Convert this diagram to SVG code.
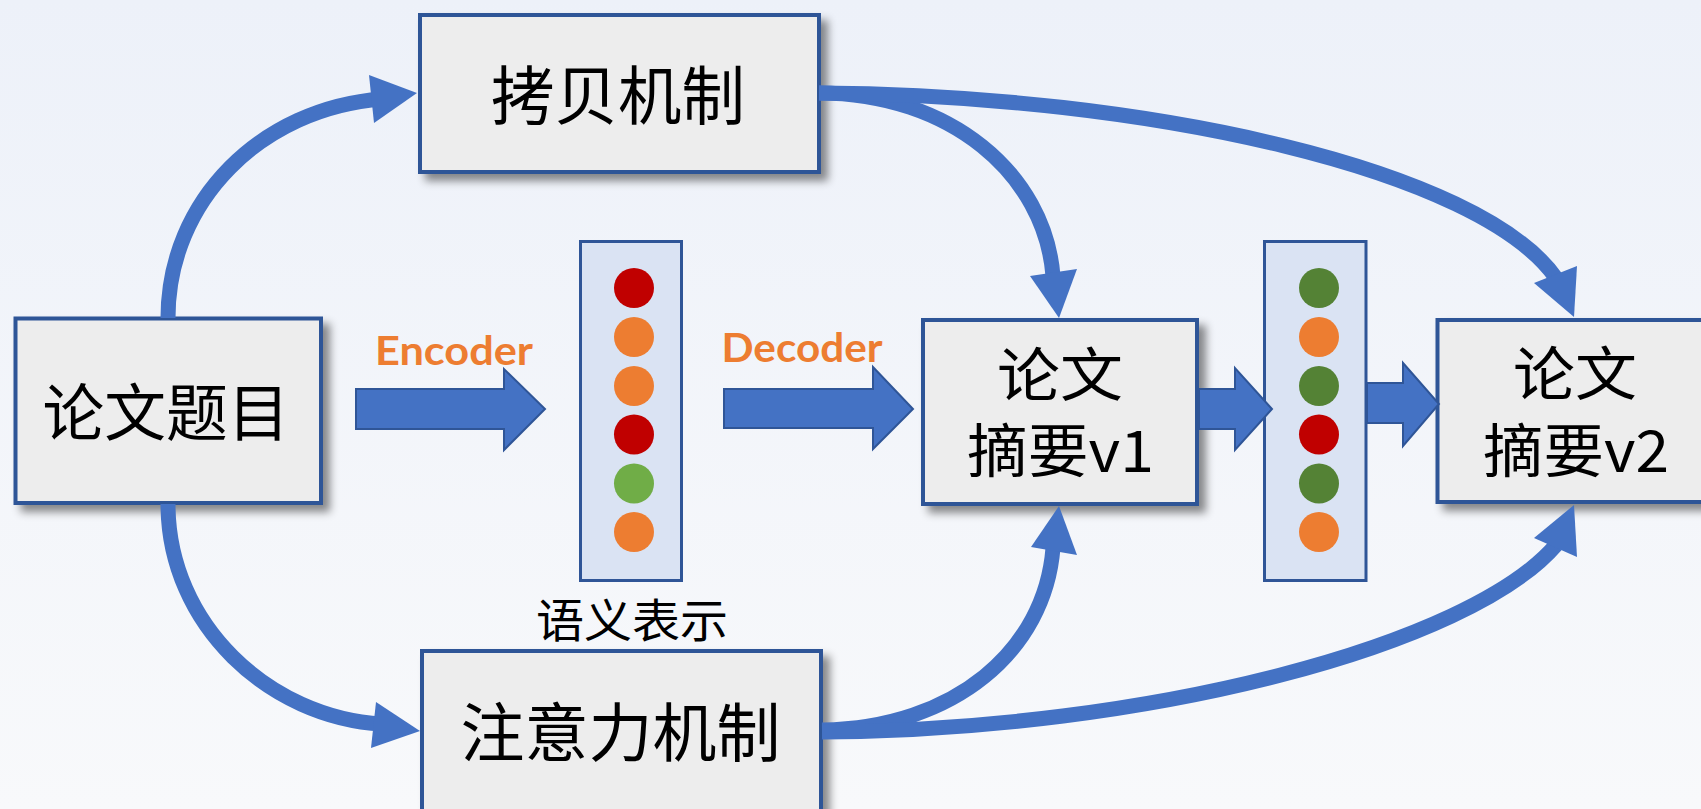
<svg xmlns="http://www.w3.org/2000/svg" width="1701" height="809" viewBox="0 0 1701 809">
<defs>
<linearGradient id="bg" x1="0" y1="0" x2="0" y2="1">
<stop offset="0" stop-color="#EDF1F9"/>
<stop offset="1" stop-color="#F8F9FB"/>
</linearGradient>
<filter id="shadow" x="-10%" y="-10%" width="130%" height="130%">
<feDropShadow dx="7" dy="7" stdDeviation="4" flood-color="#000" flood-opacity="0.45"/>
</filter>
<style>
.node{fill:#EDEDED;stroke:#2F5597;stroke-width:4;filter:url(#shadow)}
.vec{fill:#DAE3F3;stroke:#2F5597;stroke-width:3}
.big{font-family:"Noto Sans CJK SC","Noto Sans",sans-serif;font-size:62px;fill:#000;text-anchor:middle}
.mid{font-family:"Noto Sans CJK SC","Noto Sans",sans-serif;font-size:58px;fill:#000;text-anchor:middle}
.small{font-family:"Noto Sans CJK SC","Noto Sans",sans-serif;font-size:46px;fill:#000;text-anchor:middle}
.lbl{font-family:Lato,"Liberation Sans",sans-serif;font-weight:700;font-size:41px;fill:#ED7D31;text-anchor:middle}
.curve{fill:none;stroke:#4472C4;stroke-width:15}
.head{fill:#4472C4}
.block{fill:#4472C4;stroke:#2F5597;stroke-width:2;stroke-linejoin:miter}
.red{fill:#C00000}.org{fill:#ED7D31}.lgr{fill:#70AD47}.dgr{fill:#548235}
</style>
</defs>
<rect x="0" y="0" width="1701" height="809" fill="url(#bg)"/>

<g id="node-title">
<rect class="node" x="15.5" y="318.5" width="305.5" height="184.5"/>
<text class="big" x="166" y="436" textLength="247" lengthAdjust="spacingAndGlyphs">论文题目</text>
</g>
<g id="node-copy">
<rect class="node" x="420" y="15" width="399" height="157"/>
<text class="big" x="618" y="119" style="font-size:64px" textLength="254" lengthAdjust="spacingAndGlyphs">拷贝机制</text>
</g>
<g id="node-attention">
<rect class="node" x="422" y="651" width="399" height="170"/>
<text class="big" x="620.5" y="756" style="font-size:64px" textLength="320" lengthAdjust="spacingAndGlyphs">注意力机制</text>
</g>
<g id="node-v1">
<rect class="node" x="923" y="320" width="274" height="184"/>
<text class="mid" x="1060" y="396" textLength="126" lengthAdjust="spacingAndGlyphs">论文</text>
<text class="mid" x="1060.5" y="472" textLength="187" lengthAdjust="spacingAndGlyphs">摘要v1</text>
</g>
<g id="node-v2">
<rect class="node" x="1437.5" y="320" width="290" height="182"/>
<text class="mid" x="1575" y="395" textLength="124" lengthAdjust="spacingAndGlyphs">论文</text>
<text class="mid" x="1576" y="472" textLength="186" lengthAdjust="spacingAndGlyphs">摘要v2</text>
</g>
<g id="node-vector1">
<rect class="vec" x="580.5" y="241.5" width="101" height="339"/>
<circle class="red" cx="634" cy="288" r="20"/>
<circle class="org" cx="634" cy="337" r="20"/>
<circle class="org" cx="634" cy="386" r="20"/>
<circle class="red" cx="634" cy="434.5" r="20"/>
<circle class="lgr" cx="634" cy="483.5" r="20"/>
<circle class="org" cx="634" cy="532" r="20"/>
<text class="small" x="632" y="636.5" textLength="192" lengthAdjust="spacingAndGlyphs">语义表示</text>
</g>
<g id="node-vector2">
<rect class="vec" x="1264.5" y="241.5" width="101.5" height="339"/>
<circle class="dgr" cx="1319" cy="288" r="20"/>
<circle class="org" cx="1319" cy="337" r="20"/>
<circle class="dgr" cx="1319" cy="386" r="20"/>
<circle class="red" cx="1319" cy="434.5" r="20"/>
<circle class="dgr" cx="1319" cy="483.5" r="20"/>
<circle class="org" cx="1319" cy="532" r="20"/>
</g>

<g id="connectors">
<path class="curve" d="M168,318 C168,200 262,108 382,99"/>
<polygon class="head" points="417,93 369,75 374,123"/>
<path class="curve" d="M168,504 C168,625 270,718 382,724"/>
<polygon class="head" points="420,731 376,702 371,748"/>
<path class="curve" d="M819,93 C950,93 1045,174 1053,276"/>
<polygon class="head" points="1059,318 1030,276 1077,269"/>
<path class="curve" d="M819,93 C1150,95 1480,170 1556,278"/>
<polygon class="head" points="1574,317 1534,283 1577,266"/>
<path class="curve" d="M822,730 C955,728 1045,650 1053,548"/>
<polygon class="head" points="1059,506 1031,547 1077,555"/>
<path class="curve" d="M822,732 C1150,730 1470,645 1556,545"/>
<polygon class="head" points="1574,505 1534,538 1577,557"/>

<polygon class="block" points="356,389 504,389 504,369 545,409 504,450 504,429 356,429"/>
<polygon class="block" points="724,389 873,389 873,367 913,409 873,449 873,428 724,428"/>
<polygon class="block" points="1199,389 1235,389 1235,368 1272,409 1235,450 1235,429 1199,429"/>
<polygon class="block" points="1367,383 1403,383 1403,363 1439,404 1403,446 1403,423 1367,423"/>
<text class="lbl" x="454" y="365" textLength="158" lengthAdjust="spacingAndGlyphs">Encoder</text>
<text class="lbl" x="802" y="362" textLength="161" lengthAdjust="spacingAndGlyphs">Decoder</text>
</g>
</svg>
